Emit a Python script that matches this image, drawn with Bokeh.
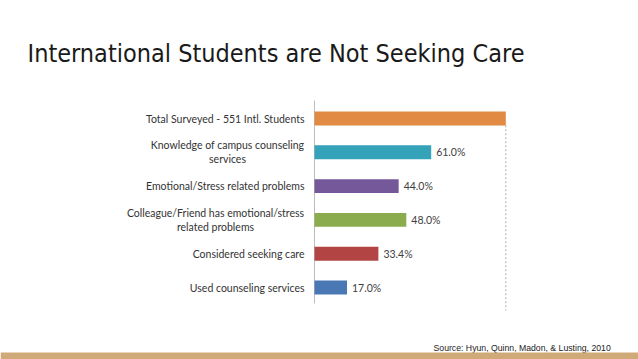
from bokeh.plotting import figure
from bokeh.models import Range1d, Label, BoxAnnotation, ColumnDataSource
from bokeh.core.properties import value
from bokeh.embed import file_html
from bokeh.resources import INLINE

# ---- data ----
categories = [
    "Total Surveyed - 551 Intl. Students",
    "Knowledge of campus counseling\nservices",
    "Emotional/Stress related problems",
    "Colleague/Friend has emotional/stress\nrelated problems",
    "Considered seeking care",
    "Used counseling services",
]
values = [100.0, 61.0, 44.0, 48.0, 33.4, 17.0]
value_labels = ["", "61.0%", "44.0%", "48.0%", "33.4%", "17.0%"]
bar_colors = ["#e08a43", "#34a2b9", "#74589a", "#8aab4e", "#b34444", "#4a78b4"]
title_text = "International Students are Not Seeking Care"
source_text = "Source: Hyun, Quinn, Madon, & Lusting, 2010"

# ---- style ----
label_font = "Lato"
label_size = "10.5px"
label_color = "#333333"
# centre offsets (px, from axis) for two-line labels
two_line_centre = {1: -87, 3: -99}

W, H = 638, 359
px_per_unit_x = 1.913
axis_px = 314
px_per_row = 33.8
first_row_px = 118

ypos = list(range(len(categories)))

p = figure(
    width=W, height=H,
    x_range=Range1d(-axis_px / px_per_unit_x, (W - axis_px) / px_per_unit_x),
    y_range=Range1d((H - first_row_px) / px_per_row, -first_row_px / px_per_row),
    x_axis_type=None, y_axis_type=None,
    toolbar_location=None, output_backend="svg",
    min_border=0, outline_line_color=None,
    background_fill_color="white", border_fill_color="white",
)
p.xgrid.visible = False
p.ygrid.visible = False

src = ColumnDataSource(dict(y=ypos, v=values, lab=value_labels, col=bar_colors))

# axis line and dotted max line
p.segment(x0=[0], y0=[ypos[0] - 0.53], x1=[0], y1=[ypos[-1] + 0.47],
          line_color="#bdbdbd", line_width=1)
p.segment(x0=[max(values)], y0=[ypos[0] + 0.2], x1=[max(values)], y1=[ypos[-1] + 0.68],
          line_color="#a8a8a8", line_width=1, line_dash="2 2")

p.hbar(y="y", left=0, right="v", height=0.41, fill_color="col", line_color=None, source=src)

p.text(x="v", y="y", text="lab", x_offset=5, text_baseline="middle", text_align="left",
       text_font=value(label_font), text_font_size=label_size, text_color="#404040", source=src)

single = [i for i in ypos if i not in two_line_centre]
double = [i for i in ypos if i in two_line_centre]
p.text(x=[0] * len(single), y=[ypos[i] for i in single], text=[categories[i] for i in single],
       x_offset=-10, text_align="right", text_baseline="middle",
       text_font=value(label_font), text_font_size=label_size, text_color=label_color)
for i in double:
    p.text(x=[0], y=[ypos[i]], text=[categories[i]], x_offset=two_line_centre[i],
           text_align="center", text_baseline="middle", text_line_height=1.15,
           text_font=value(label_font), text_font_size=label_size, text_color=label_color)

p.add_layout(Label(x=27, y=H - 53, x_units="screen", y_units="screen", text=title_text,
                   text_font="'DejaVu Sans Condensed', 'Liberation Sans Narrow', sans-serif",
                   text_font_size="25px",
                   text_color="#1a1a1a", text_baseline="alphabetic"))
p.add_layout(Label(x=433, y=H - 347, x_units="screen", y_units="screen", text=source_text,
                   text_font="Liberation Sans", text_font_size="8.7px",
                   text_color="#222222", text_baseline="alphabetic"))
p.add_layout(BoxAnnotation(bottom=0, top=7, bottom_units="screen", top_units="screen",
                           fill_color="#cfa977", fill_alpha=1, line_color=None))

open("out.html", "w").write(file_html(p, INLINE))
